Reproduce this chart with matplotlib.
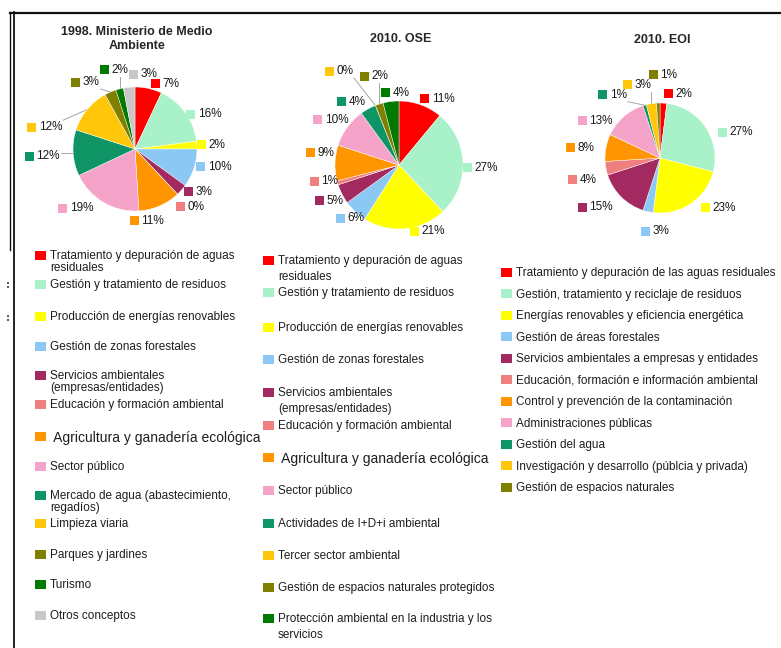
import numpy as np
import matplotlib.pyplot as plt
from matplotlib import font_manager
from matplotlib.patches import Rectangle

W, H = 781, 648

installed = {f.name for f in font_manager.fontManager.ttflist}
NARROW = 'Liberation Sans Narrow' if 'Liberation Sans Narrow' in installed else 'Liberation Sans'
REGULAR = 'Liberation Sans'
TITLE_SIZE = 10 if NARROW != REGULAR else 9

# shared colour order of the three breakdowns
COLORS = ['#FF0000', '#A9F2C9', '#FFFF00', '#8CC8F4', '#A32A60', '#F08080',
          '#FF9500', '#F5A3C9', '#0F9466', '#FFC60A', '#7F7F00', '#007A00',
          '#C8C8C8']

titles = ["1998. Ministerio de Medio\nAmbiente", "2010. OSE", "2010. EOI"]

mma_values = [7, 16, 2, 10, 3, 0, 11, 19, 12, 12, 3, 2, 3]
ose_values = [11, 27, 21, 6, 5, 1, 9, 10, 4, 0, 2, 4]
eoi_values = [2, 27, 23, 3, 15, 4, 8, 13, 1, 3, 1]

mma_labels = [
    "Tratamiento y depuración de aguas\nresiduales",
    "Gestión y tratamiento de residuos",
    "Producción de energías renovables",
    "Gestión de zonas forestales",
    "Servicios ambientales\n(empresas/entidades)",
    "Educación y formación ambiental",
    " Agricultura y ganadería ecológica",
    "Sector público",
    "Mercado de agua (abastecimiento,\nregadíos)",
    "Limpieza viaria",
    "Parques y jardines",
    "Turismo",
    "Otros conceptos",
]
ose_labels = [
    "Tratamiento y depuración de aguas\nresiduales",
    "Gestión y tratamiento de residuos",
    "Producción de energías renovables",
    "Gestión de zonas forestales",
    "Servicios ambientales\n(empresas/entidades)",
    "Educación y formación ambiental",
    " Agricultura y ganadería ecológica",
    "Sector público",
    "Actividades de I+D+i ambiental",
    "Tercer sector ambiental",
    "Gestión de espacios naturales protegidos",
    "Protección ambiental en la industria y los\nservicios",
]
eoi_labels = [
    "Tratamiento y depuración de las aguas residuales",
    "Gestión, tratamiento y reciclaje de residuos",
    "Energías renovables y eficiencia energética",
    "Gestión de áreas forestales",
    "Servicios ambientales a empresas y entidades",
    "Educación, formación e información ambiental",
    "Control y prevención de la contaminación",
    "Administraciones públicas",
    "Gestión del agua",
    "Investigación y desarrollo (públcia y privada)",
    "Gestión de espacios naturales",
]

# layout of each panel (pixel units, y measured from the top)
panels = [
    dict(values=mma_values, labels=mma_labels, title=titles[0],
         center=(135, 149), radius=62, title_y=39,
         dang=[-4.5, -4, 0, 2.7, 2.9, -4.8, -24, -20, 0.4, 27.6, 18, 7, -3.9],
         drad=[1.10, 1.06, 1.08, 1.10, 1.11, 1.19, 1.16, 1.51, 1.71, 1.70, 1.44, 1.37, 1.21],
         leader=[8, 9, 10, 11],
         leg_x=35, leg_rows=[255, 284, 316, 346, 375, 404, 436, 466, 495, 523, 554, 584, 615],
         wrap=1.0),
    dict(values=ose_values, labels=ose_labels, title=titles[1],
         center=(399, 165), radius=64, title_y=39,
         dang=[-1.3, -3.9, 7.4, -4.4, -2.8, -5.5, -6, 6.9, 13.3, 15.1, 3.5, 3],
         drad=[1.11, 1.07, 1.06, 1.23, 1.37, 1.35, 1.39, 1.45, 1.33, 1.83, 1.49, 1.15],
         leader=[9, 10],
         leg_x=263, leg_rows=[260, 292, 327, 359, 392, 425, 457, 490, 523, 555, 587, 618],
         wrap=1.45),
    dict(values=eoi_values, labels=eoi_labels, title=titles[2],
         center=(660, 158), radius=55, title_y=40,
         dang=[-3.5, -11.8, 8.1, 1.1, -12.7, 3.1, 4.1, 22.9, 25.9, 14.9, 3],
         drad=[1.18, 1.22, 1.22, 1.36, 1.67, 1.63, 1.63, 1.57, 1.55, 1.46, 1.52],
         leader=[8, 9],
         leg_x=501, leg_rows=[272 + 21.5 * i for i in range(11)],
         wrap=1.2),
]


def Y(y):
    return H - y


fig = plt.figure(figsize=(W / 100, H / 100), dpi=100)
ax = fig.add_axes([0, 0, 1, 1])

pending = []
for p in panels:
    vals = p['values']
    n = len(vals)
    cx, cy = p['center']
    r = p['radius']
    cols = COLORS[:n]
    ax.pie(vals, colors=cols, startangle=90, counterclock=False,
           center=(cx, Y(cy)), radius=r, frame=True,
           wedgeprops=dict(edgecolor='white', linewidth=0.3))

    ax.text(cx + 2, Y(p['title_y']), p['title'], ha='center', va='center',
            fontsize=TITLE_SIZE, fontweight='bold', family=NARROW, color='#262626',
            linespacing=1.3)

    fr = np.array(vals, dtype=float) / sum(vals)
    mids = 90 - 360 * (np.cumsum(fr) - fr / 2)
    for i, v in enumerate(vals):
        a = np.radians(mids[i] + p['dang'][i])
        sx = cx + p['drad'][i] * r * np.cos(a)
        sy = Y(cy) + p['drad'][i] * r * np.sin(a)
        ax.add_patch(Rectangle((sx - 4.5, sy - 4.5), 9, 9, color=cols[i], lw=0))
        t = ax.text(sx + 7, sy, f"{v}%", ha='left', va='center', fontsize=8.5,
                    family=REGULAR, color='#1A1A1A')
        if i in p['leader']:
            ex = cx + r * np.cos(np.radians(mids[i]))
            ey = Y(cy) + r * np.sin(np.radians(mids[i]))
            pending.append((t, sx - 4.5, (ex, ey)))

    # legend column
    lx = p['leg_x']
    for i, lab in enumerate(p['labels']):
        ry = Y(p['leg_rows'][i])
        ax.add_patch(Rectangle((lx, ry - 4.5), 11, 9, color=cols[i], lw=0))
        big = lab.startswith(' ')
        ax.text(lx + 15, ry + (5.4 if big else 4.6), lab, ha='left', va='top',
                fontsize=10 if big else 8.5, family=REGULAR, color='#1E1E1E',
                linespacing=p['wrap'])

# frame lines
ax.plot([10, 10], [Y(12), Y(250)], color='#111111', lw=1.0)
ax.plot([13.5, 13.5], [Y(12), Y(648)], color='#111111', lw=1.3)
ax.plot([10, W], [Y(12.5), Y(12.5)], color='#111111', lw=1.6)
for yy in (285, 318):
    ax.text(8, Y(yy), ':', ha='center', va='center', fontsize=7,
            color='#3A4A66', fontweight='bold')

ax.set_xlim(0, W)
ax.set_ylim(0, H)
ax.set_aspect('equal')
ax.axis('off')

# leader lines from each slice edge to the nearest point of its label box
fig.canvas.draw()
renderer = fig.canvas.get_renderer()
inv = ax.transData.inverted()
for t, left, (ex, ey) in pending:
    bb = t.get_window_extent(renderer)
    (x0, y0), (x1, y1) = inv.transform([[bb.x0, bb.y0], [bb.x1, bb.y1]])
    x0 = min(x0, left)
    nx = min(max(ex, x0 - 1), x1 + 1)
    ny = min(max(ey, y0 - 1), y1 + 1)
    ax.plot([nx, ex], [ny, ey], color='#A6A6A6', lw=0.7, zorder=0.5)

fig.savefig('out.png', dpi=100)
